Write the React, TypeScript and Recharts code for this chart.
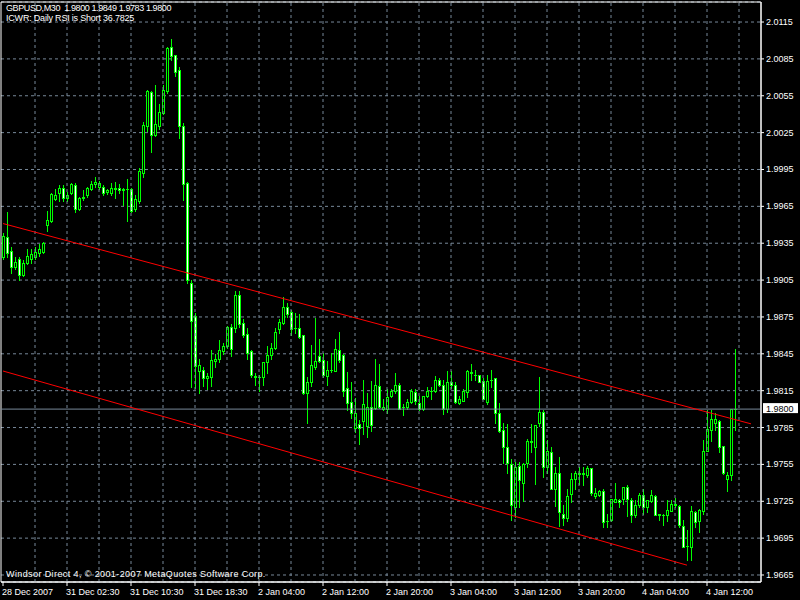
import { ComposedChart, Bar, Line, XAxis, YAxis, CartesianGrid, ReferenceLine, ReferenceArea } from 'recharts'

// GBPUSD M30 bars, 28 Dec 2007 .. 4 Jan 2008
const opens = [
  1.9924, 1.9940, 1.9929, 1.9916, 1.9922, 1.9909, 1.9919, 1.9922, 1.9924, 1.9927,
  1.9928, 1.9950, 1.9953, 1.9971, 1.9976, 1.9980, 1.9972, 1.9976, 1.9982, 1.9963,
  1.9972, 1.9974, 1.9979, 1.9983, 1.9981, 1.9981, 1.9977, 1.9976, 1.9979, 1.9980,
  1.9978, 1.9979, 1.9979, 1.9963, 1.9969, 1.9992, 2.0030, 2.0058, 2.0023, 2.0030,
  2.0041, 2.0059, 2.0095, 2.0088, 2.0076, 2.0030, 1.9984, 1.9903, 1.9876, 1.9831,
  1.9832, 1.9825, 1.9826, 1.9839, 1.9841, 1.9847, 1.9851, 1.9867, 1.9866, 1.9893,
  1.9870, 1.9861, 1.9847, 1.9827, 1.9826, 1.9826, 1.9838, 1.9844, 1.9850, 1.9865,
  1.9870, 1.9883, 1.9879, 1.9866, 1.9866, 1.9860, 1.9813, 1.9822, 1.9834, 1.9843,
  1.9840, 1.9827, 1.9832, 1.9831, 1.9848, 1.9844, 1.9817, 1.9806, 1.9785, 1.9788,
  1.9790, 1.9786, 1.9802, 1.9801, 1.9819, 1.9800, 1.9800, 1.9811, 1.9815, 1.9820,
  1.9802, 1.9802, 1.9806, 1.9814, 1.9805, 1.9800, 1.9811, 1.9815, 1.9815, 1.9824,
  1.9820, 1.9800, 1.9822, 1.9820, 1.9805, 1.9807, 1.9814, 1.9829, 1.9828, 1.9828,
  1.9823, 1.9806, 1.9824, 1.9825, 1.9797, 1.9783, 1.9769, 1.9755, 1.9720, 1.9754,
  1.9740, 1.9756, 1.9773, 1.9769, 1.9789, 1.9798, 1.9753, 1.9765, 1.9735, 1.9748,
  1.9715, 1.9711, 1.9731, 1.9743, 1.9747, 1.9747, 1.9746, 1.9752, 1.9729, 1.9730,
  1.9733, 1.9709, 1.9710, 1.9724, 1.9726, 1.9727, 1.9737, 1.9726, 1.9714, 1.9722,
  1.9730, 1.9720, 1.9725, 1.9729, 1.9714, 1.9714, 1.9714, 1.9717, 1.9722, 1.9721,
  1.9705, 1.9689, 1.9688, 1.9716, 1.9709, 1.9717, 1.9766, 1.9783, 1.9789, 1.9790,
  1.9770, 1.9743, 1.9746, 1.9800,
]
const highs = [
  1.9943, 1.9960, 1.9932, 1.9924, 1.9924, 1.9921, 1.9930, 1.9930, 1.9932, 1.9934,
  1.9936, 1.9961, 1.9976, 1.9979, 1.9982, 1.9982, 1.9977, 1.9984, 1.9984, 1.9973,
  1.9978, 1.9981, 1.9986, 1.9989, 1.9986, 1.9982, 1.9979, 1.9984, 1.9985, 1.9983,
  1.9980, 1.9987, 1.9980, 1.9974, 1.9996, 2.0034, 2.0060, 2.0059, 2.0064, 2.0048,
  2.0064, 2.0095, 2.0101, 2.0088, 2.0078, 2.0033, 1.9985, 1.9905, 1.9878, 1.9841,
  1.9834, 1.9829, 1.9848, 1.9845, 1.9856, 1.9854, 1.9868, 1.9869, 1.9896, 1.9896,
  1.9873, 1.9866, 1.9848, 1.9829, 1.9828, 1.9838, 1.9851, 1.9854, 1.9866, 1.9873,
  1.9891, 1.9886, 1.9881, 1.9878, 1.9877, 1.9860, 1.9826, 1.9852, 1.9874, 1.9857,
  1.9846, 1.9839, 1.9846, 1.9857, 1.9863, 1.9845, 1.9830, 1.9822, 1.9809, 1.9791,
  1.9824, 1.9813, 1.9823, 1.9841, 1.9837, 1.9808, 1.9816, 1.9816, 1.9829, 1.9821,
  1.9804, 1.9808, 1.9816, 1.9816, 1.9811, 1.9811, 1.9818, 1.9818, 1.9827, 1.9825,
  1.9824, 1.9831, 1.9831, 1.9822, 1.9811, 1.9816, 1.9832, 1.9837, 1.9832, 1.9828,
  1.9825, 1.9828, 1.9832, 1.9825, 1.9805, 1.9789, 1.9788, 1.9759, 1.9757, 1.9757,
  1.9756, 1.9776, 1.9788, 1.9787, 1.9826, 1.9799, 1.9775, 1.9769, 1.9753, 1.9761,
  1.9722, 1.9735, 1.9748, 1.9750, 1.9753, 1.9753, 1.9754, 1.9752, 1.9736, 1.9734,
  1.9735, 1.9715, 1.9727, 1.9740, 1.9727, 1.9737, 1.9738, 1.9728, 1.9726, 1.9732,
  1.9735, 1.9726, 1.9734, 1.9730, 1.9715, 1.9715, 1.9726, 1.9726, 1.9728, 1.9722,
  1.9710, 1.9702, 1.9721, 1.9717, 1.9719, 1.9775, 1.9799, 1.9799, 1.9797, 1.9791,
  1.9770, 1.9749, 1.9800, 1.9849,
]
const lows = [
  1.9922, 1.9924, 1.9911, 1.9914, 1.9905, 1.9908, 1.9918, 1.9919, 1.9922, 1.9925,
  1.9927, 1.9945, 1.9952, 1.9970, 1.9969, 1.9969, 1.9969, 1.9975, 1.9960, 1.9962,
  1.9970, 1.9973, 1.9978, 1.9981, 1.9979, 1.9974, 1.9975, 1.9974, 1.9972, 1.9976,
  1.9966, 1.9953, 1.9960, 1.9961, 1.9968, 1.9989, 2.0026, 2.0009, 2.0022, 2.0028,
  2.0040, 2.0057, 2.0084, 2.0071, 2.0021, 1.9970, 1.9903, 1.9818, 1.9817, 1.9813,
  1.9819, 1.9816, 1.9819, 1.9834, 1.9838, 1.9845, 1.9850, 1.9843, 1.9863, 1.9867,
  1.9859, 1.9841, 1.9826, 1.9820, 1.9815, 1.9820, 1.9829, 1.9841, 1.9849, 1.9862,
  1.9869, 1.9875, 1.9860, 1.9862, 1.9858, 1.9812, 1.9789, 1.9819, 1.9833, 1.9838,
  1.9826, 1.9820, 1.9830, 1.9831, 1.9838, 1.9811, 1.9799, 1.9793, 1.9781, 1.9772,
  1.9780, 1.9777, 1.9782, 1.9800, 1.9801, 1.9799, 1.9797, 1.9810, 1.9813, 1.9800,
  1.9795, 1.9800, 1.9805, 1.9804, 1.9799, 1.9799, 1.9810, 1.9808, 1.9814, 1.9819,
  1.9796, 1.9798, 1.9817, 1.9805, 1.9804, 1.9807, 1.9810, 1.9824, 1.9824, 1.9822,
  1.9808, 1.9804, 1.9818, 1.9789, 1.9781, 1.9756, 1.9748, 1.9710, 1.9712, 1.9720,
  1.9725, 1.9753, 1.9765, 1.9739, 1.9786, 1.9745, 1.9748, 1.9735, 1.9721, 1.9705,
  1.9706, 1.9709, 1.9724, 1.9735, 1.9739, 1.9738, 1.9745, 1.9730, 1.9728, 1.9729,
  1.9704, 1.9704, 1.9709, 1.9724, 1.9720, 1.9723, 1.9713, 1.9708, 1.9712, 1.9720,
  1.9715, 1.9716, 1.9724, 1.9714, 1.9710, 1.9706, 1.9709, 1.9717, 1.9720, 1.9704,
  1.9688, 1.9677, 1.9677, 1.9704, 1.9700, 1.9715, 1.9766, 1.9774, 1.9783, 1.9765,
  1.9747, 1.9733, 1.9742, 1.9783,
]
const closes = [
  1.9941, 1.9927, 1.9916, 1.9920, 1.9909, 1.9919, 1.9925, 1.9926, 1.9928, 1.9930,
  1.9935, 1.9954, 1.9975, 1.9974, 1.9980, 1.9972, 1.9974, 1.9983, 1.9963, 1.9972,
  1.9973, 1.9980, 1.9983, 1.9985, 1.9984, 1.9976, 1.9978, 1.9980, 1.9980, 1.9978,
  1.9979, 1.9979, 1.9961, 1.9971, 1.9994, 2.0031, 2.0059, 2.0023, 2.0032, 2.0042,
  2.0060, 2.0094, 2.0087, 2.0074, 2.0030, 1.9983, 1.9905, 1.9872, 1.9835, 1.9836,
  1.9825, 1.9827, 1.9840, 1.9841, 1.9848, 1.9851, 1.9867, 1.9849, 1.9893, 1.9869,
  1.9860, 1.9846, 1.9828, 1.9826, 1.9826, 1.9838, 1.9844, 1.9850, 1.9863, 1.9871,
  1.9883, 1.9877, 1.9865, 1.9866, 1.9859, 1.9813, 1.9822, 1.9836, 1.9839, 1.9839,
  1.9828, 1.9832, 1.9832, 1.9849, 1.9840, 1.9815, 1.9805, 1.9797, 1.9797, 1.9785,
  1.9804, 1.9802, 1.9787, 1.9820, 1.9802, 1.9802, 1.9810, 1.9815, 1.9820, 1.9800,
  1.9802, 1.9806, 1.9815, 1.9807, 1.9800, 1.9811, 1.9815, 1.9815, 1.9824, 1.9820,
  1.9800, 1.9822, 1.9820, 1.9806, 1.9808, 1.9815, 1.9831, 1.9830, 1.9828, 1.9822,
  1.9808, 1.9823, 1.9824, 1.9797, 1.9782, 1.9769, 1.9756, 1.9722, 1.9753, 1.9742,
  1.9755, 1.9774, 1.9774, 1.9787, 1.9798, 1.9753, 1.9766, 1.9735, 1.9748, 1.9716,
  1.9711, 1.9729, 1.9743, 1.9748, 1.9748, 1.9748, 1.9752, 1.9732, 1.9732, 1.9733,
  1.9708, 1.9709, 1.9727, 1.9727, 1.9724, 1.9737, 1.9727, 1.9714, 1.9722, 1.9730,
  1.9720, 1.9726, 1.9730, 1.9714, 1.9715, 1.9714, 1.9718, 1.9723, 1.9723, 1.9706,
  1.9688, 1.9689, 1.9717, 1.9708, 1.9718, 1.9766, 1.9784, 1.9792, 1.9792, 1.9769,
  1.9748, 1.9746, 1.9800, 1.9800,
]

const timeLabels = [
  '28 Dec 2007', '31 Dec 02:30', '31 Dec 10:30', '31 Dec 18:30', '2 Jan 04:00', '2 Jan 12:00',
  '2 Jan 20:00', '3 Jan 04:00', '3 Jan 12:00', '3 Jan 20:00', '4 Jan 04:00', '4 Jan 12:00',
]
const labelIdx = [0, 16, 32, 48, 64, 80, 96, 112, 128, 144, 160, 176]
const gridIdx = [8, 16, 24, 32, 40, 48, 56, 64, 72, 80, 88, 96, 104, 112, 120, 128, 136, 144, 152, 160, 168, 176, 184]
const priceTicks = [
  1.9665, 1.9695, 1.9725, 1.9755, 1.9785, 1.9815, 1.9845, 1.9875,
  1.9905, 1.9935, 1.9965, 1.9995, 2.0025, 2.0055, 2.0085, 2.0115,
]

// channel drawn by hand on the chart: bar index -> price
const upperIdx = [0, 187]
const upperVals = [1.9951, 1.9788]
const lowerIdx = [0, 171]
const lowerVals = [1.9831, 1.9673]

const bid = 1.98
const title = 'GBPUSD,M30  1.9800 1.9849 1.9783 1.9800'
const note = 'ICWR: Daily RSI is Short 36.7825'
const footer = 'Windsor Direct 4, \u00a9 2001-2007 MetaQuotes Software Corp.'

const slotCount = 190
const yDomain = [1.96593, 2.01313]

const FONT = '"Liberation Sans", Arial, sans-serif'
const GRID = '#778899'
const CANDLE = '#00ff00'

const rows = Array.from({ length: slotCount }, (_, i) => {
  const has = i < opens.length
  const ui = upperIdx.indexOf(i)
  const li = lowerIdx.indexOf(i)
  return {
    i,
    o: has ? opens[i] : null,
    h: has ? highs[i] : null,
    l: has ? lows[i] : null,
    c: has ? closes[i] : null,
    range: has ? [lows[i], highs[i]] : null,
    upper: ui >= 0 ? upperVals[ui] : null,
    lower: li >= 0 ? lowerVals[li] : null,
  }
})

function Candle(props: any) {
  const { x, y, width, height, payload } = props
  if (!payload || payload.o == null) return null
  const { o, h, l, c } = payload
  const span = h - l
  const toY = (p: number) => (span > 0 ? y + ((h - p) / span) * height : y)
  const cx = Math.round(x + width / 2)
  const top = Math.round(Math.min(toY(o), toY(c)))
  const bot = Math.round(Math.max(toY(o), toY(c)))
  const bull = c >= o
  return (
    <g>
      <line x1={cx + 0.5} x2={cx + 0.5} y1={Math.round(y)} y2={Math.round(y + height) + 1} stroke={CANDLE} />
      {bot - top < 1 ? (
        <line x1={cx - 1} x2={cx + 2} y1={top + 0.5} y2={top + 0.5} stroke={CANDLE} />
      ) : (
        <rect x={cx - 0.5} y={top + 0.5} width={2} height={bot - top} fill={bull ? '#000' : '#fff'} stroke={CANDLE} />
      )}
    </g>
  )
}

function TimeTick({ x, y, payload }: any) {
  const k = labelIdx.indexOf(payload.value)
  if (k < 0) return null
  return (
    <text x={x - 1} y={y + 7} fill="#fff" fontSize={9} textAnchor="start">
      {timeLabels[k]}
    </text>
  )
}

function PriceTick({ x, y, payload }: any) {
  return (
    <text x={x} y={y + 3} fill="#fff" fontSize={9} textAnchor="start">
      {payload.value.toFixed(4)}
    </text>
  )
}

function BidTag({ viewBox }: any) {
  if (!viewBox) return null
  const x = viewBox.x + viewBox.width + 2
  const y = viewBox.y
  return (
    <g>
      <rect x={x} y={y - 6} width={35} height={10} fill="#fff" />
      <text x={x + 3} y={y + 3} fill="#000" fontSize={9}>
        {bid.toFixed(4)}
      </text>
    </g>
  )
}

const caption = { position: 'absolute', left: 6, color: '#fff', fontSize: 9, lineHeight: '10px', whiteSpace: 'pre' } as const

export default function App() {
  return (
    <div style={{ position: 'relative', width: 800, height: 600, background: '#000', fontFamily: FONT }}>
      <style>{'body{margin:0;background:#000}'}</style>
      <ComposedChart width={800} height={600} data={rows} margin={{ top: 2, right: 0, bottom: 0, left: 1 }}>
        <CartesianGrid vertical={false} stroke={GRID} strokeDasharray="3 3" />
        {gridIdx.map((g) => (
          <ReferenceLine key={g} x={g} stroke={GRID} strokeDasharray="3 3" />
        ))}
        <XAxis
          dataKey="i"
          type="category"
          ticks={labelIdx}
          interval={0}
          height={18}
          tickSize={4}
          axisLine={{ stroke: '#fff' }}
          tickLine={{ stroke: '#fff' }}
          tick={<TimeTick />}
        />
        <YAxis
          orientation="right"
          width={39}
          domain={yDomain}
          allowDataOverflow
          ticks={priceTicks}
          interval={0}
          tickSize={3}
          tickMargin={2}
          axisLine={{ stroke: '#fff' }}
          tickLine={{ stroke: '#fff' }}
          tick={<PriceTick />}
        />
        <ReferenceArea y1={yDomain[1]} y2={yDomain[0]} fill="none" stroke="#fff" />
        <ReferenceLine y={bid} stroke={GRID} label={<BidTag />} />
        <Bar dataKey="range" shape={(p: any) => <Candle {...p} />} isAnimationActive={false} />
        <Line dataKey="upper" stroke="#ff0000" dot={false} activeDot={false} connectNulls isAnimationActive={false} />
        <Line dataKey="lower" stroke="#ff0000" dot={false} activeDot={false} connectNulls isAnimationActive={false} />
      </ComposedChart>
      <div style={{ ...caption, top: 3 }}>
        <div style={{ letterSpacing: -0.4 }}>{title}</div>
        <div style={{ letterSpacing: -0.2 }}>{note}</div>
      </div>
      <div style={{ ...caption, top: 569, letterSpacing: 0.4 }}>{footer}</div>
    </div>
  )
}
